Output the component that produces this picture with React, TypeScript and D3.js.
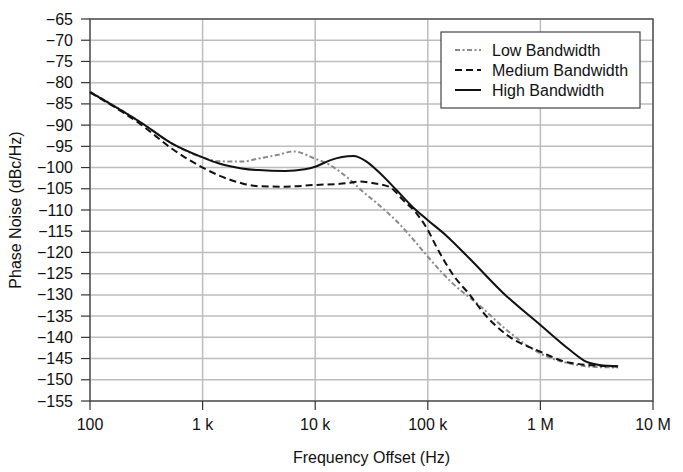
import * as d3 from "d3";

const xTicks = [100, 1e3, 1e4, 1e5, 1e6, 1e7];
const xTickLabels = ["100", "1 k", "10 k", "100 k", "1 M", "10 M"];
const yTicks = d3.range(-155, -64, 5);

// [Hz, dBc/Hz]
const lowBw: [number, number][] = [
  [100, -82.1], [288, -89.5], [531, -94.3], [1000, -97.6], [1380, -98.5],
  [2225, -98.6], [3126, -97.9], [4870, -96.9], [6350, -96.2], [10000, -97.9],
  [13500, -99.4], [19000, -102.2], [26600, -105.7], [37500, -109], [52700, -112.6],
  [74000, -116.9], [100000, -121], [130000, -124.4], [168000, -127.4], [291000, -132.6],
  [502000, -138.3], [1000000, -143.8], [1830000, -146.2], [3160000, -147],
  [4900000, -147.1],
];
const mediumBw: [number, number][] = [
  [100, -82.3], [288, -90], [531, -95.5], [1000, -100], [1380, -101.8],
  [2225, -103.7], [3126, -104.4], [5390, -104.5], [10000, -104.1], [19000, -103.7],
  [25000, -103.3], [33000, -103.7], [46000, -104.6], [60000, -107.6], [80000, -110.9],
  [100000, -114.7], [120000, -118.8], [168000, -125.3], [236000, -130], [333000, -135.1],
  [502000, -139.4], [1000000, -143.4], [1830000, -146], [4900000, -146.9],
];
const highBw: [number, number][] = [
  [100, -82.2], [288, -89.5], [531, -94.3], [1000, -97.6], [1380, -99],
  [2225, -100.2], [3126, -100.6], [5390, -100.8], [8100, -100.4], [10000, -99.8],
  [13500, -98.3], [21800, -97.3], [28600, -98.6], [37500, -101.3], [52700, -105.3],
  [74000, -109.4], [100000, -112.4], [147000, -116.1], [236000, -121.5],
  [469000, -129.6], [1000000, -137.1], [1830000, -143], [2580000, -145.8],
  [3340000, -146.5], [4900000, -146.8],
];

const series = [
  { name: "Low Bandwidth", data: lowBw, color: "#8a8a8a", dash: "5,2.5,2,2.5" },
  { name: "Medium Bandwidth", data: mediumBw, color: "#111", dash: "7,4" },
  { name: "High Bandwidth", data: highBw, color: "#111", dash: "none" },
];

const width = 683;
const height = 472;
const marginLeft = 90;
const marginRight = 30;
const marginTop = 19;
const marginBottom = 71;
const font = "Liberation Sans, Arial, Helvetica, sans-serif";

export default function App() {
  const x = d3
    .scaleLog()
    .domain([100, 1e7])
    .range([marginLeft, width - marginRight]);
  const y = d3
    .scaleLinear()
    .domain([-155, -65])
    .range([height - marginBottom, marginTop]);

  const line = d3
    .line<[number, number]>()
    .x((d) => x(d[0]))
    .y((d) => y(d[1]))
    .curve(d3.curveMonotoneX);

  const x0 = marginLeft;
  const x1 = width - marginRight;
  const y0 = height - marginBottom;
  const y1 = marginTop;

  return (
    <svg
      width={width}
      height={height}
      style={{ position: "absolute", left: 0, top: 0, background: "#fff" }}
      fontFamily={font}
    >
      {/* grid */}
      {yTicks.map((t) => (
        <line key={"gy" + t} x1={x0} x2={x1} y1={y(t)} y2={y(t)} stroke="#bdbdbd" strokeWidth={1.5} />
      ))}
      {xTicks.map((t) => (
        <line key={"gx" + t} x1={x(t)} x2={x(t)} y1={y1} y2={y0} stroke="#bdbdbd" strokeWidth={1.5} />
      ))}

      {/* frame */}
      <rect x={x0} y={y1} width={x1 - x0} height={y0 - y1} fill="none" stroke="#555" strokeWidth={1.5} />

      {/* y axis */}
      {yTicks.map((t) => (
        <g key={"ty" + t}>
          <line x1={x0 - 9} x2={x0} y1={y(t)} y2={y(t)} stroke="#333" strokeWidth={1.2} />
          <text x={x0 - 17} y={y(t)} dy="0.35em" textAnchor="end" fontSize={16} fill="#111">
            {String(t).replace("-", "\u2212")}
          </text>
        </g>
      ))}

      {/* x axis */}
      {xTicks.map((t, i) => (
        <g key={"tx" + t}>
          <line x1={x(t)} x2={x(t)} y1={y0} y2={y0 + 9} stroke="#333" strokeWidth={1.2} />
          <text x={x(t)} y={y0 + 29} textAnchor="middle" fontSize={16} fill="#111">
            {xTickLabels[i]}
          </text>
        </g>
      ))}

      <text x={(x0 + x1) / 2} y={463} textAnchor="middle" fontSize={16} fill="#111">
        Frequency Offset (Hz)
      </text>
      <text
        transform={`translate(21,${(y0 + y1) / 2}) rotate(-90)`}
        textAnchor="middle"
        fontSize={16}
        fill="#111"
      >
        Phase Noise (dBc/Hz)
      </text>

      {/* curves */}
      {series.map((s) => (
        <path
          key={s.name}
          d={line(s.data) ?? ""}
          fill="none"
          stroke={s.color}
          strokeWidth={2}
          strokeDasharray={s.dash}
        />
      ))}

      {/* legend */}
      <g>
        <rect x={441} y={32} width={199} height={76} fill="#fff" stroke="#444" strokeWidth={1.2} />
        {series.map((s, i) => (
          <g key={"lg" + s.name} transform={`translate(455,${50 + i * 20})`}>
            <line x1={0} x2={26} y1={0} y2={0} stroke={s.color} strokeWidth={2} strokeDasharray={s.dash} />
            <text x={37} y={0} dy="0.35em" fontSize={16} fill="#111">
              {s.name}
            </text>
          </g>
        ))}
      </g>
    </svg>
  );
}
